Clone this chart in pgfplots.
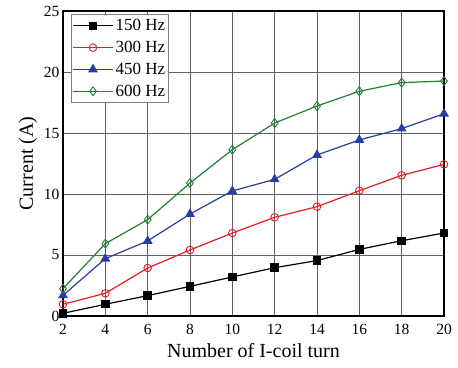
\documentclass[border=0pt]{standalone}
\usepackage{fontspec}
\setmainfont{Liberation Serif}
\usepackage{pgfplots}
\pgfplotsset{compat=1.18}
\definecolor{cred}{RGB}{228,30,36}
\definecolor{cblue}{RGB}{40,60,165}
\definecolor{cgreen}{RGB}{30,130,50}
\begin{document}
\begin{tikzpicture}
\begin{axis}[
  name=ax,
  scale only axis, width=381pt, height=305pt,
  xmin=2, xmax=20, ymin=0, ymax=25,
  xtick={2,4,...,20}, ytick={0,5,...,25},
  grid=major, major grid style={gray!75!black, line width=0.6pt},
  axis line style={line width=1.2pt},
  tick style={draw=none},
  tick label style={font=\fontsize{15.5}{18}\selectfont},
  xticklabel shift=5pt,
  /pgf/number format/assume math mode=true,
  xlabel={Number of I-coil turn}, ylabel={Current (A)},
  label style={font=\fontsize{20}{24}\selectfont},
  xlabel style={yshift=-2pt}, ylabel style={yshift=0pt},
  legend style={at={(0.021,0.99)}, anchor=north west, draw=gray, line width=0.8pt,
    font=\fontsize{17}{19}\selectfont, row sep=5pt, inner xsep=1pt, inner ysep=3pt},
  legend cell align=left,
  legend image code/.code={\draw[mark repeat=2,mark phase=2] plot coordinates {(0pt,0pt)(20pt,0pt)(40pt,0pt)};},
  every axis plot/.append style={line width=1.2pt},
]
\addplot[black, mark=square*, mark size=3.6pt] coordinates {(2,0.22)(4,0.96)(6,1.67)(8,2.43)(10,3.2)(12,3.96)(14,4.54)(16,5.46)(18,6.17)(20,6.8)};
\addplot[cred, mark=o, mark size=3.8pt, mark options={fill=white, line width=0.9pt}] coordinates {(2,0.96)(4,1.86)(6,3.93)(8,5.41)(10,6.8)(12,8.09)(14,8.96)(16,10.27)(18,11.53)(20,12.43)};
\addplot[cblue, mark=triangle*, mark size=4.5pt] coordinates {(2,1.69)(4,4.7)(6,6.15)(8,8.36)(10,10.25)(12,11.2)(14,13.2)(16,14.43)(18,15.36)(20,16.58)};
\addplot[cgreen, mark=diamond, mark size=4.5pt, mark options={fill=white, line width=0.9pt}] coordinates {(2,2.24)(4,5.93)(6,7.9)(8,10.9)(10,13.63)(12,15.82)(14,17.21)(16,18.42)(18,19.13)(20,19.26)};
\legend{150 Hz, 300 Hz, 450 Hz, 600 Hz}
\end{axis}
\path ([xshift=-63pt,yshift=-51pt]ax.south west) rectangle ([xshift=14pt,yshift=11pt]ax.north east);
\end{tikzpicture}
\end{document}
